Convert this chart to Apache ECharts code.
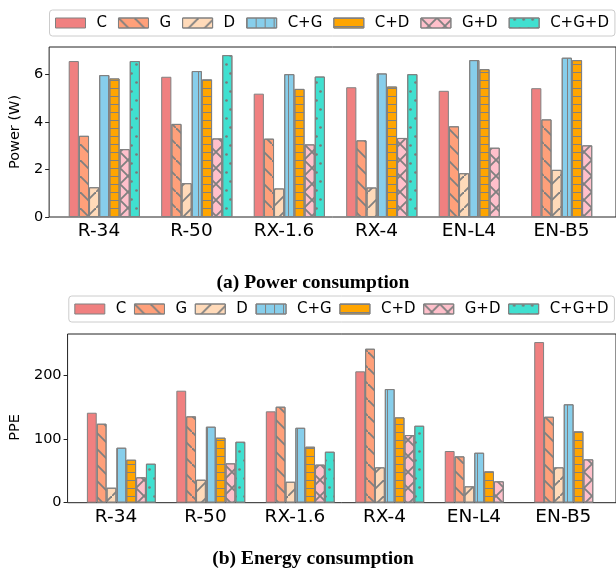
<!DOCTYPE html>
<html><head><meta charset="utf-8">
<script src="https://cdn.jsdelivr.net/npm/echarts@6/dist/echarts.min.js"></script>
<style>html,body{margin:0;padding:0;background:#fff}#c{width:616px;height:581px}</style>
</head><body><div id="c"></div>
<script>
// ---------- data ----------
const categories = ['R-34', 'R-50', 'RX-1.6', 'RX-4', 'EN-L4', 'EN-B5'];
const seriesNames = ['C', 'G', 'D', 'C+G', 'C+D', 'G+D', 'C+G+D'];

const powerC   = [6.55, 5.89, 5.18, 5.45, 5.30, 5.41];
const powerG   = [3.41, 3.91, 3.29, 3.22, 3.81, 4.10];
const powerD   = [1.25, 1.42, 1.20, 1.24, 1.84, 1.98];
const powerCG  = [5.96, 6.13, 6.00, 6.03, 6.59, 6.69];
const powerCD  = [5.82, 5.78, 5.38, 5.48, 6.21, 6.59];
const powerGD  = [2.85, 3.30, 3.05, 3.32, 2.91, 3.01];
const powerCGD = [6.55, 6.80, 5.90, 6.00, null, null];

const ppeC   = [141.7, 176.4, 143.9, 206.9, 81.4, 253.0];
const ppeG   = [124.4, 136.0, 151.2, 242.5, 73.0, 135.4];
const ppeD   = [23.6, 36.2, 33.0, 55.7, 25.8, 55.7];
const ppeCG  = [86.6, 119.7, 118.0, 179.0, 78.7, 155.0];
const ppeCD  = [67.7, 102.4, 88.2, 134.4, 49.4, 112.4];
const ppeGD  = [40.0, 62.0, 60.0, 106.6, 33.7, 68.3];
const ppeCGD = [61.4, 96.0, 80.3, 121.2, null, null];

const powerTicks = [0, 2, 4, 6];
const ppeTicks = [0, 100, 200];
const powerMax = 7.14;
const ppeMax = 265.7;

const powerData = [powerC, powerG, powerD, powerCG, powerCD, powerGD, powerCGD];
const ppeData = [ppeC, ppeG, ppeD, ppeCG, ppeCD, ppeGD, ppeCGD];

// ---------- styles ----------
const colors = ['#F08080', '#FFA07A', '#FFDAB9', '#87CEEB', '#FFA500', '#FFC0CB', '#40E0D0'];
const edge = '#808080';
const hatch = '#808080';
const back = 'path://M0,0L1.3,0L16,14.7L16,16L14.7,16L0,1.3Z';
const fwd = 'path://M14.7,0L16,0L16,1.3L1.3,16L0,16L0,14.7Z';
const cross = 'path://M0,0L1.3,0L16,14.7L16,16L14.7,16L0,1.3ZM14.7,0L16,0L16,1.3L1.3,16L0,16L0,14.7Z';
const decals = [
  null,
  { symbol: back, symbolSize: 1, dashArrayX: [16, 0], dashArrayY: [16, 0], color: hatch },
  { symbol: fwd, symbolSize: 1, dashArrayX: [16, 0], dashArrayY: [16, 0], color: hatch },
  { symbol: 'rect', symbolSize: 1, dashArrayX: [1, 8], dashArrayY: [1, 0], color: hatch },
  { symbol: 'rect', symbolSize: 1, dashArrayX: [1, 0], dashArrayY: [1, 7], color: hatch },
  { symbol: cross, symbolSize: 1, dashArrayX: [16, 0], dashArrayY: [16, 0], color: hatch },
  { symbol: 'circle', symbolSize: 0.9, dashArrayX: [[3, 6], [0, 4, 3, 2]], dashArrayY: [3, 6], color: '#7a7a7a' }
];

const FONT = 'DejaVu Sans';
const axisColor = '#222';

function frameY(gridIndex, max, ticks, name, gap, namePad) {
  return {
    gridIndex, type: 'value', min: 0, max: max,
    axisLine: { show: false },
    axisTick: { show: true, length: 4, customValues: ticks, lineStyle: { color: axisColor, width: 1 } },
    axisLabel: { customValues: ticks, fontFamily: FONT, fontSize: 14.5, color: '#000', margin: 6 },
    splitLine: { show: false },
    name: name, nameLocation: 'middle', nameGap: gap,
    nameTextStyle: { fontFamily: FONT, fontSize: 14.5, color: '#000', padding: namePad }
  };
}
function dataY(gridIndex, max) {
  return { gridIndex, type: 'value', min: 0, max: max, show: false, splitLine: { show: false } };
}
function frameX(gridIndex) {
  return { gridIndex, type: 'value', min: 0, max: 1, show: false, splitLine: { show: false } };
}
function dataX(gridIndex) {
  return {
    gridIndex, type: 'category', data: categories,
    axisLine: { show: false }, axisTick: { show: false },
    axisLabel: { fontFamily: FONT, fontSize: 18.5, color: '#000', margin: 4.5, padding: [0, 10.6, 0, 0], interval: 0 },
    splitLine: { show: false }
  };
}
function makeSeries(dataArr, axisIndex) {
  return seriesNames.map((n, i) => ({
    name: n, type: 'bar', xAxisIndex: axisIndex, yAxisIndex: axisIndex,
    data: dataArr[i], barWidth: '11%', barGap: '0%',
    itemStyle: Object.assign({ color: colors[i], borderColor: edge, borderWidth: 1 },
      decals[i] ? { decal: decals[i] } : {}),
    emphasis: { disabled: true }
  }));
}
function legend(left, top, gap) {
  return {
    left, top, orient: 'horizontal', icon: 'rect', itemWidth: 30, itemHeight: 10, itemGap: gap,
    padding: [5, 6, 5, 5.5], borderColor: '#cccccc', borderWidth: 1, borderRadius: 3,
    backgroundColor: '#fff', selectedMode: false, data: seriesNames,
    itemStyle: { borderColor: edge, borderWidth: 1 },
    textStyle: { fontFamily: FONT, fontSize: 15, color: '#000', padding: [0, 0, 0, 6], lineHeight: 16 }
  };
}

const chart = echarts.init(document.getElementById('c'), null, { renderer: 'canvas' });
chart.setOption({
  animation: false,
  backgroundColor: '#fff',
  legend: [legend(49.5, 10, 11), legend(68.8, 296, 7.7)],
  grid: [
    { left: 41.7, top: 47, width: 600, height: 170, show: true, borderColor: axisColor, borderWidth: 1, backgroundColor: 'transparent' },
    { left: 58.05, top: 47, width: 555, height: 170, show: false },
    { left: 61, top: 334, width: 600, height: 168.7, show: true, borderColor: axisColor, borderWidth: 1, backgroundColor: 'transparent' },
    { left: 76.6, top: 334, width: 536.8, height: 168.7, show: false }
  ],
  xAxis: [frameX(0), dataX(1), frameX(2), dataX(3)],
  yAxis: [
    frameY(0, powerMax, powerTicks, 'Power (W)', 20, [0, 0, 0, 0]), dataY(1, powerMax),
    frameY(2, ppeMax, ppeTicks, 'PPE', 39.5, [0, 18, 0, 0]), dataY(3, ppeMax)
  ],
  series: makeSeries(powerData, 1).concat(makeSeries(ppeData, 3)),
  graphic: [
    { type: 'text', x: 313, y: 282.5, style: { text: '(a) Power consumption', font: 'bold 19.5px "Liberation Serif"', textAlign: 'center', textVerticalAlign: 'middle', fill: '#000' } },
    { type: 'text', x: 313, y: 558.5, style: { text: '(b) Energy consumption', font: 'bold 19.5px "Liberation Serif"', textAlign: 'center', textVerticalAlign: 'middle', fill: '#000' } }
  ]
});
</script></body></html>
